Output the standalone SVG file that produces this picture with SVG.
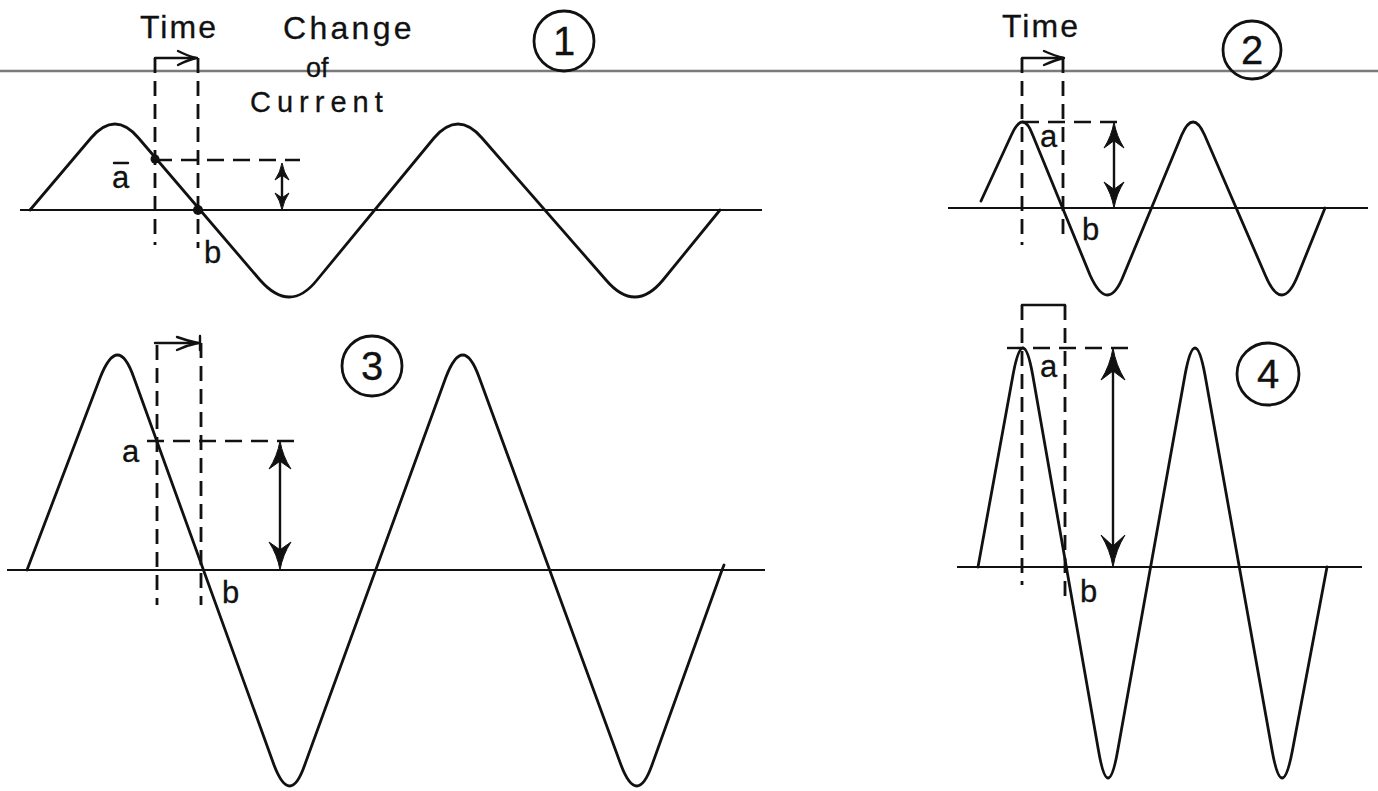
<svg xmlns="http://www.w3.org/2000/svg" width="1378" height="791" viewBox="0 0 1378 791">
<style>
.wave{fill:none;stroke:#111;stroke-width:2.8;stroke-linejoin:round;stroke-linecap:round}
.base{stroke:#111;stroke-width:2.2}
.dash{stroke:#111;stroke-width:2.8;stroke-dasharray:15 8;fill:none}
.hdash{stroke:#111;stroke-width:2.4;stroke-dasharray:17 9;fill:none}
.solid{stroke:#111;stroke-width:2.4;fill:none;stroke-linecap:round;stroke-linejoin:round}
.head{fill:#111;stroke:#111;stroke-width:1}
.t{font-family:"Liberation Sans",Arial,sans-serif;fill:#111;stroke:#111;stroke-width:0.3}
.lbl{font-size:31px}
.big{font-size:32px}
.num{font-size:40px;text-anchor:middle}
.ring{fill:none;stroke:#111;stroke-width:2.8}
</style>
<rect width="1378" height="791" fill="#fff"/>
<line x1="0" y1="71" x2="1378" y2="71" stroke="#7a7a7a" stroke-width="2.5"/>

<g id="panel1">
  <line class="base" x1="20" y1="210" x2="762" y2="210"/>
  <path class="wave" d="M30,210 L91,138 Q115,110 138.5,138 L260,280 Q290,314 317,280 L434,138 Q458,110 482,138 L606,280 Q635,314 663,280 L720,210"/>
  <line class="dash" x1="155" y1="58" x2="155" y2="245"/>
  <line class="dash" x1="198" y1="58" x2="198" y2="248"/>
  <path class="solid" d="M155,58 L197,58"/>
  <path class="solid" d="M178,51 Q188,56 196,58 Q188,60 178,65"/>
  <line class="hdash" x1="155" y1="160" x2="300" y2="160"/>
  <line class="solid" x1="114" y1="163" x2="128" y2="163"/>
  <circle cx="155" cy="159" r="4.5" fill="#111"/>
  <circle cx="198" cy="210" r="5" fill="#111"/>
  <line class="solid" x1="282" y1="168" x2="282" y2="205"/>
  <path class="head" d="M282,163 Q280.25,172.35 275,180 L282,175.2 L289,180 Q283.75,172.35 282,163 Z"/>
  <path class="head" d="M282,210 Q280.25,200.65 275,193 L282,197.8 L289,193 Q283.75,200.65 282,210 Z"/>
  <text class="t lbl" x="112" y="188">a</text>
  <text class="t lbl" x="204" y="263">b</text>
  <text class="t big" x="140" y="38" letter-spacing="2">Time</text>
  <text class="t big" x="283" y="39" letter-spacing="3.3">Change</text>
  <text class="t" x="306" y="77" font-size="27">of</text>
  <text class="t" x="250" y="112" font-size="29" letter-spacing="6">Current</text>
  <circle class="ring" cx="564" cy="41" r="30"/>
  <text class="t num" x="564" y="55">1</text>
</g>

<g id="panel2">
  <line class="base" x1="948" y1="208" x2="1368" y2="208"/>
  <path class="wave" d="M981,201 L1011.4,135 Q1023,109 1032.7,135 L1090,275 Q1108,315 1123.7,275 L1181.7,135 Q1193,109 1204.6,135 L1265.2,275 Q1282,315 1298,275 L1325,208"/>
  <line class="dash" x1="1022" y1="58" x2="1022" y2="245"/>
  <line class="dash" x1="1063" y1="58" x2="1063" y2="242"/>
  <path class="solid" d="M1022,58 L1063,58"/>
  <path class="solid" d="M1044,51 Q1055,56 1064,58 Q1055,60 1044,65"/>
  <line class="hdash" x1="1022" y1="122" x2="1122" y2="122"/>
  <line class="solid" x1="1114" y1="130" x2="1114" y2="200" stroke-width="4"/>
  <path class="head" d="M1114,122 Q1111.5,136.3 1104,148 L1114,140.7 L1124,148 Q1116.5,136.3 1114,122 Z"/>
  <path class="head" d="M1114,208 Q1111.5,193.7 1104,182 L1114,189.3 L1124,182 Q1116.5,193.7 1114,208 Z"/>
  <text class="t lbl" x="1040" y="147">a</text>
  <text class="t lbl" x="1082" y="240">b</text>
  <text class="t big" x="1002" y="37" letter-spacing="2">Time</text>
  <circle class="ring" cx="1252" cy="50" r="29"/>
  <text class="t num" x="1252" y="64">2</text>
</g>

<g id="panel3">
  <line class="base" x1="7" y1="570" x2="765" y2="570"/>
  <path class="wave" d="M27,570 L100,378 Q118,332 134,378 L274,765 Q290,807 304.7,765 L445.6,378 Q463,332 479.4,378 L621,765 Q637,807 652,765 L722,570 L724,565"/>
  <line class="dash" x1="157" y1="345" x2="157" y2="605"/>
  <line class="dash" x1="201" y1="343" x2="201" y2="605"/>
  <path class="solid" d="M155,343 L200,343 M200,336 L200,350"/>
  <path class="solid" d="M177,337 Q188,341 198,343 Q188,345 177,350"/>
  <line class="hdash" x1="147" y1="441" x2="295" y2="441"/>
  <line class="solid" x1="280" y1="450" x2="280" y2="561" stroke-width="3"/>
  <path class="head" d="M280,441 Q277.25,456.4 269,469 L280,461.2 L291,469 Q282.75,456.4 280,441 Z"/>
  <path class="head" d="M280,570 Q277.25,554.6 269,542 L280,549.8 L291,542 Q282.75,554.6 280,570 Z"/>
  <text class="t lbl" x="122" y="462">a</text>
  <text class="t lbl" x="222" y="603">b</text>
  <circle class="ring" cx="372" cy="366" r="30"/>
  <text class="t num" x="372" y="380">3</text>
</g>

<g id="panel4">
  <line class="base" x1="957" y1="567" x2="1362" y2="567"/>
  <path class="wave" d="M978,567 L1013,375 Q1023,321 1032.7,375 L1098.4,750 Q1108,806 1117.8,750 L1185,375 Q1195,321 1205,375 L1272,750 Q1282,806 1292.5,750 L1327,567"/>
  <line class="dash" x1="1022" y1="305" x2="1022" y2="585"/>
  <line class="dash" x1="1065" y1="305" x2="1065" y2="600"/>
  <path class="solid" d="M1022,305 L1065,305"/>
  <line class="hdash" x1="1007" y1="348" x2="1130" y2="348"/>
  <line class="solid" x1="1113" y1="358" x2="1113" y2="557" stroke-width="4"/>
  <path class="head" d="M1113,348 Q1110,365.6 1101,380 L1113,371 L1125,380 Q1116,365.6 1113,348 Z"/>
  <path class="head" d="M1113,567 Q1110,549.4 1101,535 L1113,546 L1125,535 Q1116,549.4 1113,567 Z"/>
  <text class="t lbl" x="1040" y="377">a</text>
  <text class="t lbl" x="1080" y="602">b</text>
  <circle class="ring" cx="1268" cy="374" r="31"/>
  <text class="t num" x="1268" y="388">4</text>
</g>
</svg>
